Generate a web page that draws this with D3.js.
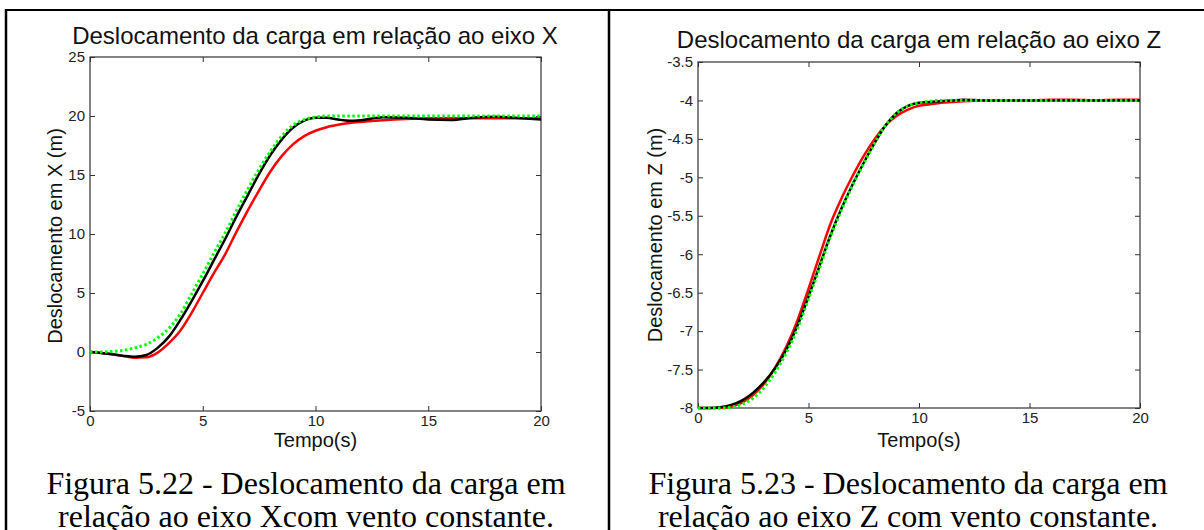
<!DOCTYPE html>
<html lang="pt">
<head>
<meta charset="utf-8">
<title>Deslocamento da carga</title>
<script src="https://cdn.jsdelivr.net/npm/d3@7"></script>
<style>
body { margin: 0; background: #fff; }
.axis text { font-family: "Liberation Sans", Arial, sans-serif; font-size: 15px; fill: #222; }
.axis line { stroke: #333; }
.axis path { display: none; }
.titulo, .rotulo { font-family: "Liberation Sans", Arial, sans-serif; fill: #111; }
.legenda { font-family: "Liberation Serif", "Times New Roman", serif; fill: #000; }
</style>
</head>
<body>
<script>
var w = 1204, h = 530;

// tempo (s)
var tempo = [0, 0.5, 1, 1.5, 2, 2.5, 3, 3.5, 4, 4.5, 5, 5.5, 6, 6.5, 7, 7.5, 8, 8.5,
             9, 9.5, 10, 10.5, 11, 11.5, 12, 13, 14, 15, 16, 17, 18, 19, 20];

// deslocamento em X (m)
var xRef   = [0, 0, 0.05, 0.15, 0.35, 0.65, 1.2, 2.0, 3.2, 4.9, 6.6, 8.4, 10.1, 12.0, 13.8, 15.5, 17.0, 18.3,
              19.2, 19.7, 19.9, 20, 20, 20, 20, 20, 20, 20, 20, 20, 20, 20, 20];
var xPreto = [0, -0.08, -0.2, -0.33, -0.4, -0.25, 0.35, 1.3, 2.7, 4.3, 6.0, 7.8, 9.6, 11.5, 13.3, 15.1, 16.7, 18.0,
              19.0, 19.6, 19.85, 19.85, 19.7, 19.6, 19.65, 19.9, 19.85, 19.7, 19.66, 19.85, 19.93, 19.82, 19.7];
var xVerm  = [0, -0.08, -0.2, -0.35, -0.48, -0.45, -0.05, 0.75, 1.8, 3.3, 5.0, 6.7, 8.3, 10.2, 12.0, 13.7, 15.3, 16.6,
              17.6, 18.3, 18.75, 19.05, 19.25, 19.4, 19.5, 19.65, 19.75, 19.8, 19.8, 19.8, 19.8, 19.8, 19.8];

// deslocamento em Z (m)
var zRef   = [-8, -8, -8, -7.99, -7.95, -7.87, -7.73, -7.53, -7.28, -6.97, -6.58, -6.18, -5.77, -5.42, -5.1, -4.82, -4.55, -4.32,
              -4.16, -4.07, -4.03, -4.01, -4, -4, -4, -4, -4, -4, -4, -4, -4, -4, -4];
var zPreto = [-8, -8, -7.99, -7.96, -7.9, -7.8, -7.66, -7.48, -7.24, -6.93, -6.55, -6.15, -5.75, -5.4, -5.09, -4.81, -4.55, -4.32,
              -4.16, -4.07, -4.03, -4.02, -4.01, -4.0, -3.99, -4, -4, -4, -4, -4, -4, -4, -4];
var zVerm  = [-8, -8, -8, -7.98, -7.93, -7.83, -7.68, -7.47, -7.2, -6.86, -6.45, -6.02, -5.6, -5.27, -4.98, -4.72, -4.5, -4.32,
              -4.2, -4.12, -4.07, -4.05, -4.03, -4.02, -4.01, -4, -4, -4, -3.99, -3.99, -4, -3.99, -3.99];

var ticksT = [0, 5, 10, 15, 20];
var ticksX = [-5, 0, 5, 10, 15, 20, 25];
var ticksZ = [-8, -7.5, -7, -6.5, -6, -5.5, -5, -4.5, -4, -3.5];

var svg = d3.select("body").append("svg")
    .attr("width", w)
    .attr("height", h);

// linhas da tabela
svg.append("line").attr("x1", 5).attr("x2", w).attr("y1", 10).attr("y2", 10)
   .attr("stroke", "#000").attr("stroke-width", 2);
svg.append("line").attr("x1", 6).attr("x2", 6).attr("y1", 9).attr("y2", h)
   .attr("stroke", "#000").attr("stroke-width", 2.5);
svg.append("line").attr("x1", 609).attr("x2", 609).attr("y1", 9).attr("y2", h)
   .attr("stroke", "#000").attr("stroke-width", 2.5);

function grafico(cfg) {
  var xScale = d3.scaleLinear().domain([0, 20]).range([cfg.left, cfg.right]);
  var yScale = d3.scaleLinear().domain(cfg.dom).range([cfg.bottom, cfg.top]);
  var fmt = function(d) { return String(d); };

  svg.append("g").attr("class", "axis")
     .attr("transform", "translate(0," + cfg.bottom + ")")
     .call(d3.axisBottom(xScale).tickValues(ticksT).tickFormat(fmt).tickSizeInner(-5).tickSizeOuter(0).tickPadding(4));
  svg.append("g").attr("class", "axis")
     .attr("transform", "translate(0," + cfg.top + ")")
     .call(d3.axisTop(xScale).tickValues(ticksT).tickFormat("").tickSizeInner(-5).tickSizeOuter(0));
  svg.append("g").attr("class", "axis")
     .attr("transform", "translate(" + cfg.left + ",0)")
     .call(d3.axisLeft(yScale).tickValues(cfg.ticks).tickFormat(fmt).tickSizeInner(-5).tickSizeOuter(0).tickPadding(5));
  svg.append("g").attr("class", "axis")
     .attr("transform", "translate(" + cfg.right + ",0)")
     .call(d3.axisRight(yScale).tickValues(cfg.ticks).tickFormat("").tickSizeInner(-5).tickSizeOuter(0));

  svg.append("rect")
     .attr("x", cfg.left).attr("y", cfg.top)
     .attr("width", cfg.right - cfg.left).attr("height", cfg.bottom - cfg.top)
     .attr("fill", "none").attr("stroke", "#333").attr("stroke-width", 1.2);

  var linha = d3.line()
      .x(function(d) { return xScale(d[0]); })
      .y(function(d) { return yScale(d[1]); })
      .curve(d3.curveMonotoneX);

  cfg.series.forEach(function(s) {
    svg.append("path")
       .datum(d3.zip(tempo, s.v))
       .attr("d", linha)
       .attr("fill", "none")
       .attr("stroke", s.cor)
       .attr("stroke-width", s.lw)
       .attr("stroke-dasharray", s.dash || null);
  });

  var cx = (cfg.left + cfg.right) / 2;
  svg.append("text").attr("class", "titulo")
     .attr("x", cfg.tx).attr("y", cfg.ty)
     .attr("text-anchor", "middle").attr("font-size", 24)
     .text(cfg.titulo);
  svg.append("text").attr("class", "rotulo")
     .attr("transform", "translate(" + cfg.ylx + "," + cfg.yly + ") rotate(-90)")
     .attr("text-anchor", "middle").attr("font-size", 20)
     .text(cfg.ylabel);
  svg.append("text").attr("class", "rotulo")
     .attr("x", cx).attr("y", 447)
     .attr("text-anchor", "middle").attr("font-size", 20)
     .text("Tempo(s)");
  cfg.legenda.forEach(function(l, i) {
    svg.append("text").attr("class", "legenda")
       .attr("x", cfg.lx).attr("y", 494 + i * 33)
       .attr("text-anchor", "middle").attr("font-size", 32)
       .text(l);
  });
}

grafico({
  left: 90, right: 541, top: 57, bottom: 411, dom: [-5, 25], ticks: ticksX,
  titulo: "Deslocamento da carga em relação ao eixo X", tx: 315, ty: 44,
  ylabel: "Deslocamento em X (m)", ylx: 62, yly: 236,
  legenda: ["Figura 5.22 - Deslocamento da carga em", "relação ao eixo Xcom vento constante."], lx: 306,
  series: [
    { v: xVerm, cor: "#ff0000", lw: 2.5 },
    { v: xPreto, cor: "#000000", lw: 2.5 },
    { v: xRef, cor: "#00ff00", lw: 3, dash: "2.5,2.5" }
  ]
});

grafico({
  left: 698, right: 1140, top: 62, bottom: 408, dom: [-8, -3.5], ticks: ticksZ,
  titulo: "Deslocamento da carga em relação ao eixo Z", tx: 919, ty: 48,
  ylabel: "Deslocamento em Z (m)", ylx: 662, yly: 235,
  legenda: ["Figura 5.23 - Deslocamento da carga em", "relação ao eixo Z com vento constante."], lx: 908,
  series: [
    { v: zVerm, cor: "#ff0000", lw: 2.5 },
    { v: zPreto, cor: "#000000", lw: 2.5 },
    { v: zRef, cor: "#00ff00", lw: 3, dash: "2.5,2.5" }
  ]
});
</script>
</body>
</html>
